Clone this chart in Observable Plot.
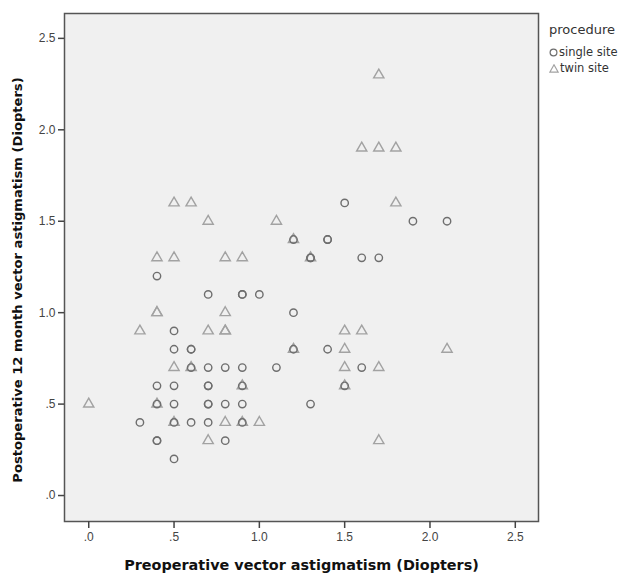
<!DOCTYPE html>
<html>
<head>
<meta charset="utf-8">
<script src="https://cdn.jsdelivr.net/npm/d3@7"></script>
<script src="https://cdn.jsdelivr.net/npm/@observablehq/plot@0.6"></script>
<style>
  html, body { margin: 0; padding: 0; background: #fff; }
  #wrap { position: relative; width: 619px; height: 574px; font-family: "Liberation Sans", Arial, sans-serif; }
  #wrap > svg { position: absolute; left: 0; top: 0; }
  g[aria-label="x-axis label"] text { font-family: "DejaVu Sans", sans-serif; font-weight: bold; font-size: 14.4px; fill: #111; }
  #ytitle { position: absolute; left: 18px; top: 280px; transform: translate(-50%, -50%) rotate(-90deg);
    white-space: nowrap; font-family: "DejaVu Sans", sans-serif; font-weight: bold; font-size: 13.1px; color: #111; line-height: 16px; }
  #legend { position: absolute; left: 549px; top: 20px; font-family: "DejaVu Sans", sans-serif; font-size: 11.5px; color: #333; line-height: 16px; }
  #legend .t { font-size: 13px; line-height: 20px; margin-bottom: 4px; }
  #legend svg { vertical-align: -1px; margin-right: 1px; }
</style>
</head>
<body>
<div id="wrap"></div>
<script>
const series = ["single site", "twin site"];
const singleX = [0.4, 0.7, 0.9, 0.9, 1.0, 1.2, 0.5, 0.5, 0.6, 0.6, 0.6, 0.7, 0.8, 0.9, 1.1,
  0.4, 0.5, 0.7, 0.7, 0.9, 0.4, 0.5, 0.7, 0.7, 0.8, 0.9, 0.3, 0.5, 0.6, 0.7, 0.9,
  0.4, 0.4, 0.8, 0.5, 1.5, 1.9, 2.1, 1.2, 1.4, 1.4, 1.3, 1.3, 1.6, 1.7, 1.2, 1.4, 1.6, 1.5, 1.3];
const singleY = [1.2, 1.1, 1.1, 1.1, 1.1, 1.0, 0.9, 0.8, 0.8, 0.8, 0.7, 0.7, 0.7, 0.7, 0.7,
  0.6, 0.6, 0.6, 0.6, 0.6, 0.5, 0.5, 0.5, 0.5, 0.5, 0.5, 0.4, 0.4, 0.4, 0.4, 0.4,
  0.3, 0.3, 0.3, 0.2, 1.6, 1.5, 1.5, 1.4, 1.4, 1.4, 1.3, 1.3, 1.3, 1.3, 0.8, 0.8, 0.7, 0.6, 0.5];
const twinX = [1.7, 1.6, 1.7, 1.8, 0.5, 0.6, 1.8, 0.7, 1.1, 1.2, 0.4, 0.5, 0.8, 0.9, 1.3,
  0.4, 0.4, 0.8, 0.3, 0.7, 0.8, 0.8, 1.5, 1.6, 1.2, 1.5, 2.1, 0.5, 0.6, 1.5, 1.7,
  0.9, 1.5, 0.0, 0.4, 0.5, 0.8, 0.9, 1.0, 0.7, 1.7];
const twinY = [2.3, 1.9, 1.9, 1.9, 1.6, 1.6, 1.6, 1.5, 1.5, 1.4, 1.3, 1.3, 1.3, 1.3, 1.3,
  1.0, 1.0, 1.0, 0.9, 0.9, 0.9, 0.9, 0.9, 0.9, 0.8, 0.8, 0.8, 0.7, 0.7, 0.7, 0.7,
  0.6, 0.6, 0.5, 0.5, 0.4, 0.4, 0.4, 0.4, 0.3, 0.3];
const ticks = [0, 0.5, 1.0, 1.5, 2.0, 2.5];
const tickLabels = [".0", ".5", "1.0", "1.5", "2.0", "2.5"];
const xTitle = "Preoperative vector astigmatism (Diopters)";
const yTitle = "Postoperative 12 month vector astigmatism (Diopters)";
const legendTitle = "procedure";

const single = singleX.map((x, i) => ({x, y: singleY[i], procedure: series[0]}));
const twin = twinX.map((x, i) => ({x, y: twinY[i], procedure: series[1]}));
const fmt = d => tickLabels[ticks.indexOf(d)];

const chart = Plot.plot({
  width: 619, height: 574,
  marginLeft: 64, marginRight: 81, marginTop: 13, marginBottom: 53,
  style: {fontFamily: "'Liberation Sans', Arial, sans-serif", fontSize: "12px", color: "#444", background: "transparent"},
  x: {domain: [-0.142, 2.636]},
  y: {domain: [-0.142, 2.636]},
  marks: [
    Plot.frame({fill: "#f0f0f0"}),
    Plot.dot(twin, {x: "x", y: "y", symbol: "triangle", r: 3.8, stroke: "#a2a2a2", strokeWidth: 1.4, fill: "none"}),
    Plot.dot(single, {x: "x", y: "y", symbol: "circle", r: 3.7, stroke: "#6e6e6e", strokeWidth: 1.4, fill: "none"}),
    Plot.frame({stroke: "#555", strokeWidth: 1.5}),
    Plot.axisX({ticks, tickFormat: fmt, tickSize: 7, tickPadding: 4, stroke: "#444", strokeWidth: 1.5,
      label: xTitle, labelAnchor: "center", labelArrow: "none", labelOffset: 48, fontSize: 12}),
    Plot.axisY({ticks, tickFormat: fmt, tickSize: 6, tickPadding: 3, stroke: "#444", strokeWidth: 1.5,
      label: null, fontSize: 12})
  ]
});
const wrap = document.getElementById("wrap");
wrap.appendChild(chart);

const yt = document.createElement("div");
yt.id = "ytitle";
yt.textContent = yTitle;
wrap.appendChild(yt);

const lg = document.createElement("div");
lg.id = "legend";
lg.innerHTML = `<div class="t">${legendTitle}</div>
<div><svg width="9" height="9"><circle cx="4.5" cy="4.5" r="3.4" fill="none" stroke="#6e6e6e" stroke-width="1.2"/></svg>${series[0]}</div>
<div><svg width="10" height="9"><path d="M5,0.8 L9.2,8.2 L0.8,8.2 Z" fill="none" stroke="#a2a2a2" stroke-width="1.2"/></svg>${series[1]}</div>`;
wrap.appendChild(lg);
</script>
</body>
</html>
